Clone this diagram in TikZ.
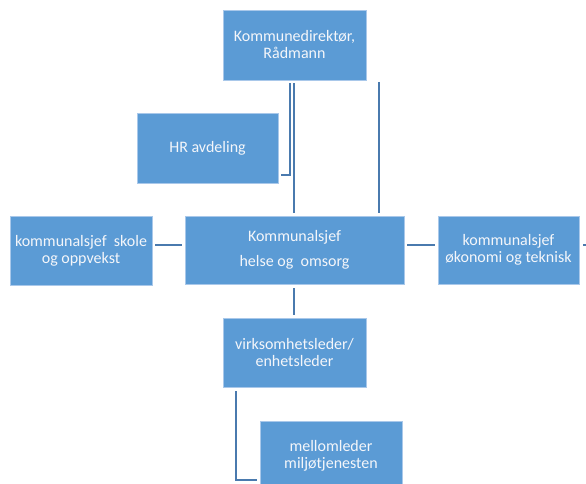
\documentclass[tikz,border=0pt]{standalone}
\usepackage{fontspec}
\setmainfont{Carlito}
\definecolor{boxblue}{HTML}{5B9BD5}
\definecolor{boxedge}{HTML}{A9C8EA}
\definecolor{linkblue}{HTML}{4A7AAE}
\definecolor{txt}{HTML}{F4F6FA}
\tikzset{
  orgbox/.style={rectangle, fill=boxblue, draw=boxedge, line width=0.6pt, text=txt, align=center,
    inner sep=0pt, font=\fontsize{16}{17}\selectfont},
  link/.style={draw=linkblue, line width=2.3pt}
}
\begin{document}
\begin{tikzpicture}[x=1pt,y=-1pt]
\clip (0,0) rectangle (586,484);
\useasboundingbox (0,0) rectangle (586,484);
\node[orgbox, minimum width=143pt, minimum height=70pt] (dir) at (294.5,45) {Kommunedirektør,\\Rådmann};
\node[orgbox, minimum width=141pt, minimum height=70pt] (hr) at (207.5,148) {HR avdeling};
\node[orgbox, minimum width=142pt, minimum height=69pt] (lft) at (81,250.5) {kommunalsjef\ \ skole\\og oppvekst};
\node[orgbox, minimum width=219pt, minimum height=68pt] (ctr) at (294.5,250) {Kommunalsjef\\[8pt]helse og\ \ omsorg};
\node[orgbox, minimum width=141pt, minimum height=68pt] (rgt) at (508.5,250) {kommunalsjef\\økonomi og teknisk};
\node[orgbox, minimum width=143pt, minimum height=69pt] (virk) at (294.5,352.5) {virksomhetsleder/\\enhetsleder};
\node[orgbox, minimum width=142pt, minimum height=70pt] (mell) at (331,456) {mellomleder\\miljøtjenesten};
\coordinate (hrend) at (281,175);
\coordinate (dirR) at (379,82);
\coordinate (edge) at (587,245);
\coordinate (mk) at (257,480);
% director to kommunalsjef helse
\draw[link] ([xshift=-0.5pt,yshift=-3pt]dir.south) -- ([xshift=-0.5pt,yshift=3pt]ctr.north);
% director to HR
\draw[link] ([xshift=-4.5pt,yshift=-3pt]dir.south) |- (hrend);
% second line to center
\draw[link] (dirR) -- ([yshift=3pt]dirR |- ctr.north);
% horizontal links
\draw[link] ([xshift=3pt]lft.east |- 0,245) -- ([xshift=-3pt]ctr.west |- 0,245);
\draw[link] ([xshift=3pt]ctr.east |- 0,245) -- ([xshift=-3pt]rgt.west |- 0,245);
\draw[link] ([xshift=4pt]rgt.east |- 0,245) -- (edge);
% center to virksomhetsleder
\draw[link] ([xshift=-0.5pt,yshift=-4pt]ctr.south) -- ([xshift=-0.5pt,yshift=3pt]virk.north);
% virksomhetsleder to mellomleder
\draw[link] ([xshift=13pt,yshift=-4pt]virk.south west) |- (mk);
\end{tikzpicture}
\end{document}
